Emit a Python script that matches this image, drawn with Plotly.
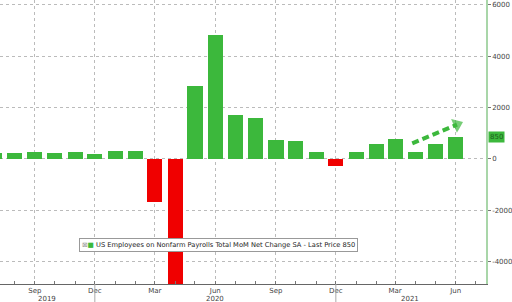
import plotly.graph_objects as go

months = ["2019-07-01", "2019-08-01", "2019-09-01", "2019-10-01", "2019-11-01", "2019-12-01",
          "2020-01-01", "2020-02-01", "2020-03-01", "2020-04-01", "2020-05-01", "2020-06-01",
          "2020-07-01", "2020-08-01", "2020-09-01", "2020-10-01", "2020-11-01", "2020-12-01",
          "2021-01-01", "2021-02-01", "2021-03-01", "2021-04-01", "2021-05-01", "2021-06-01"]
payrolls = [220, 245, 270, 245, 260, 200, 330, 315, -1680, -20679, 2830, 4846,
            1726, 1583, 740, 695, 264, -260, 260, 570, 787, 283, 593, 850]

tick_vals = ["2019-09-01", "2019-12-01", "2020-03-01", "2020-06-01", "2020-09-01",
             "2020-12-01", "2021-03-01", "2021-06-01"]
tick_text = ["Sep", "Dec", "Mar", "Jun", "Sep", "Dec", "Mar", "Jun"]
year_labels = ["2019", "2020", "2021"]
year_pos = ["2019-09-20", "2020-06-01", "2021-03-24"]
year_breaks = ["2019-12-01", "2020-12-01"]
y_ticks = [-4000, -2000, 0, 2000, 4000, 6000]
last_price = 850
legend_text = "US Employees on Nonfarm Payrolls Total MoM Net Change SA - Last Price 850"

arrow_x = ["2021-03-27", "2021-06-03"]
arrow_y = [610, 1340]

GREEN = "#3cb83c"
RED = "#f00000"
FONT = "DejaVu Sans"

colors = [GREEN if v >= 0 else RED for v in payrolls]

fig = go.Figure()
fig.add_trace(go.Bar(
    x=months, y=payrolls, marker=dict(color=colors, line=dict(width=0)),
    width=23 * 86400000, showlegend=False,
))

fig.add_trace(go.Scatter(
    x=arrow_x, y=arrow_y, mode="lines+markers", showlegend=False, hoverinfo="skip",
    line=dict(color=GREEN, width=4, dash="7px,4px"),
    marker=dict(symbol="triangle-up", size=[0, 13], color=GREEN, angleref="previous",
                line=dict(width=0)),
))

fig.update_layout(
    width=512, height=302,
    margin=dict(l=0, r=26, t=0, b=18),
    paper_bgcolor="white", plot_bgcolor="white",
    font=dict(family=FONT, size=7, color="#333"),
    bargap=0,
    xaxis=dict(
        type="date", range=["2019-07-10", "2021-07-17"],
        tickvals=tick_vals, ticktext=tick_text,
        ticks="inside", ticklen=3, tickcolor="#777",
        showline=True, linecolor="#666", linewidth=1,
        showgrid=True, gridcolor="#bbbbbb", griddash="dot", gridwidth=1,
        minor=dict(dtick="M1", tick0="2019-01-01", ticks="inside", ticklen=3,
                   tickcolor="#777", showgrid=False),
        tickfont=dict(size=7, color="#444"),
        zeroline=False,
    ),
    yaxis=dict(
        side="right", range=[-4870, 6194],
        tickvals=y_ticks, ticktext=[str(v) for v in y_ticks],
        ticks="outside", ticklen=3, tickcolor="#777",
        showline=True, linecolor="#a9d6a9", linewidth=1.5,
        showgrid=True, gridcolor="#bbbbbb", griddash="dot", gridwidth=1,
        zeroline=False,
        tickfont=dict(size=7, color="#444"),
    ),
)

# year labels below month labels
for lbl, pos in zip(year_labels, year_pos):
    fig.add_annotation(x=pos, y=0, xref="x", yref="paper", yanchor="top",
                       yshift=-9, text=lbl, showarrow=False,
                       font=dict(size=7, color="#444"))

# year separators
for yb in year_breaks:
    fig.add_shape(type="line", xref="x", yref="paper", x0=yb, x1=yb,
                  y0=0, y1=-0.07, line=dict(color="#aaa", width=1))

# legend box
fig.add_annotation(
    x=79 / 486, y=0.137, xref="paper", yref="paper", xanchor="left", yanchor="middle",
    text="<span style='color:#999'>⊠</span><span style='color:%s'>■</span> %s" % (GREEN, legend_text),
    showarrow=False, bgcolor="white", bordercolor="#999", borderwidth=1, borderpad=2,
    font=dict(size=6.7, color="#222"),
)

# last price tag
fig.add_annotation(
    x=1.0, y=last_price, xref="paper", yref="y", xanchor="left", yanchor="middle",
    xshift=2, text=str(last_price), showarrow=False, bgcolor=GREEN,
    font=dict(size=7, color="#1d5e1d"), borderpad=1,
)

fig.write_html("out.html")
